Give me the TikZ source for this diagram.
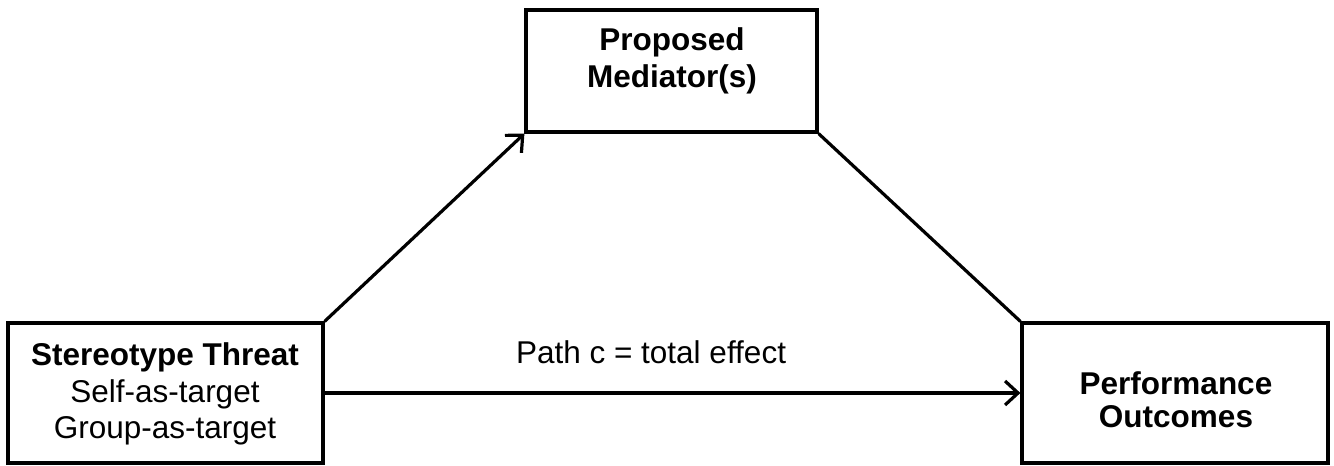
\documentclass[tikz,border=0pt]{standalone}
\usepackage{fontspec}
\setmainfont{Liberation Sans}
\usetikzlibrary{arrows.meta}
\tikzset{
  box/.style={draw=black, line width=3.2pt, inner sep=0pt, fill=none},
  txt/.style={anchor=base, inner sep=0pt, font=\fontsize{31.5}{36}\selectfont},
  btxt/.style={txt, font=\fontsize{31.5}{36}\selectfont\bfseries},
  conn/.style={draw=black, line width=3.2pt},
  arr/.style={conn, -{Straight Barb[length=13pt,width=24pt,line width=3.2pt]}}
}
\begin{document}
\begin{tikzpicture}[x=1pt,y=-1pt]
\useasboundingbox (0,0) rectangle (1334,466);
\node[box, minimum width=315pt, minimum height=140pt] (L) at (165.5,393) {};
\node[box, minimum width=291pt, minimum height=122pt] (T) at (671.5,71) {};
\node[box, minimum width=306pt, minimum height=140pt] (R) at (1175,393) {};
\node[btxt] (l1) at (165,365) {Stereotype Threat};
\node[txt] (l2) at (165,402) {Self-as-target};
\node[txt] (l3) at (165,438) {Group-as-target};
\node[btxt] (t1) at (672,50) {Proposed};
\node[btxt] (t2) at (672,87) {Mediator(s)};
\node[btxt] (r1) at (1176,394) {Performance};
\node[btxt] (r2) at (1176,427) {Outcomes};
\node[txt] (pc) at (651,363) {Path c = total effect};
\draw[arr] (L.north east) -- (T.south west);
\draw[conn] (T.south east) -- (R.north west);
\draw[arr] (L.east) -- (R.west);
\end{tikzpicture}
\end{document}
